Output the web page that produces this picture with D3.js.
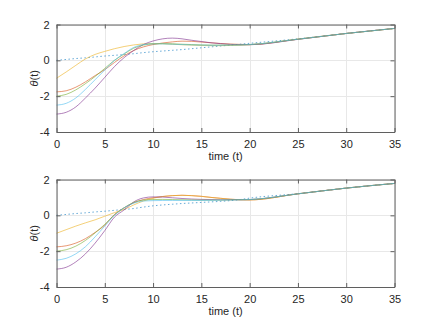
<!DOCTYPE html>
<html>
<head>
<meta charset="utf-8">
<script src="https://cdn.jsdelivr.net/npm/d3@7"></script>
<style>
  body { margin: 0; background: #fff; }
  svg { font-family: "Liberation Sans", Arial, sans-serif; }
</style>
</head>
<body>
<svg id="chart" width="436" height="327"></svg>
<script>
// sample times (s)
const times = [0, 1, 2, 3, 4, 5, 6, 7, 8, 9, 10, 11, 12, 13, 14, 15, 16, 17, 18, 19, 20, 25, 30, 35];

// top panel, one array per trajectory
const topRef    = [0, 0.05, 0.10, 0.14, 0.19, 0.24, 0.28, 0.32, 0.37, 0.43, 0.48, 0.52, 0.56, 0.60, 0.65, 0.70, 0.75, 0.80, 0.85, 0.90, 0.95, 1.20, 1.50, 1.78];
const topOrange = [-1.76, -1.70, -1.50, -1.20, -0.85, -0.52, -0.12, 0.25, 0.55, 0.75, 0.88, 0.97, 1.03, 1.07, 1.06, 1.02, 0.98, 0.94, 0.91, 0.89, 0.88, 1.18, 1.50, 1.78];
const topYellow = [-1.0, -0.65, -0.28, 0.08, 0.33, 0.50, 0.65, 0.77, 0.86, 0.92, 0.94, 0.93, 0.90, 0.87, 0.85, 0.83, 0.82, 0.82, 0.83, 0.85, 0.87, 1.18, 1.50, 1.78];
const topPurple = [-3.0, -2.9, -2.6, -2.1, -1.55, -0.95, -0.35, 0.15, 0.55, 0.88, 1.08, 1.2, 1.24, 1.2, 1.12, 1.05, 0.98, 0.93, 0.89, 0.87, 0.87, 1.17, 1.50, 1.78];
const topGreen  = [-2.0, -1.9, -1.65, -1.3, -0.9, -0.45, 0.0, 0.35, 0.68, 0.85, 0.92, 0.93, 0.92, 0.9, 0.88, 0.86, 0.85, 0.85, 0.85, 0.86, 0.88, 1.18, 1.50, 1.78];
const topCyan   = [-2.5, -2.4, -2.1, -1.62, -1.08, -0.54, 0.0, 0.38, 0.72, 0.88, 0.92, 0.92, 0.9, 0.88, 0.86, 0.85, 0.84, 0.84, 0.85, 0.86, 0.88, 1.18, 1.50, 1.78];

// bottom panel
const botRef    = [0, 0.05, 0.10, 0.14, 0.19, 0.23, 0.28, 0.33, 0.38, 0.46, 0.53, 0.58, 0.62, 0.66, 0.69, 0.72, 0.75, 0.78, 0.82, 0.88, 0.96, 1.21, 1.52, 1.78];
const botOrange = [-1.76, -1.7, -1.55, -1.3, -0.95, -0.55, 0.05, 0.42, 0.7, 0.88, 0.98, 1.05, 1.1, 1.12, 1.1, 1.06, 1.0, 0.95, 0.9, 0.87, 0.86, 1.2, 1.52, 1.78];
const botYellow = [-1.0, -0.8, -0.6, -0.42, -0.25, -0.05, 0.15, 0.33, 0.58, 0.8, 0.95, 1.05, 1.1, 1.12, 1.1, 1.06, 1.0, 0.95, 0.9, 0.87, 0.86, 1.2, 1.52, 1.78];
const botPurple = [-3.0, -2.9, -2.6, -2.15, -1.55, -0.85, -0.1, 0.3, 0.75, 0.97, 1.03, 1.02, 0.98, 0.94, 0.91, 0.89, 0.88, 0.87, 0.87, 0.87, 0.88, 1.2, 1.52, 1.78];
const botGreen  = [-2.0, -1.92, -1.72, -1.4, -0.98, -0.5, 0.02, 0.42, 0.72, 0.85, 0.88, 0.89, 0.88, 0.87, 0.86, 0.85, 0.85, 0.85, 0.86, 0.87, 0.88, 1.2, 1.52, 1.78];
const botCyan   = [-2.5, -2.4, -2.15, -1.75, -1.2, -0.6, 0.0, 0.42, 0.68, 0.8, 0.82, 0.83, 0.83, 0.83, 0.83, 0.83, 0.84, 0.85, 0.86, 0.87, 0.88, 1.2, 1.52, 1.78];

const xTicks = [0, 5, 10, 15, 20, 25, 30, 35];
const yTicks = [-4, -2, 0, 2];
const colors = ["#0072bd", "#d95319", "#edb120", "#7e2f8e", "#77ac30", "#4dbeee"];

const svg = d3.select("#chart");
const left = 56.5, right = 394.5;

const x = d3.scaleLinear().domain([0, 35]).range([left, right]);

function panel(top, bottom, series) {
    const y = d3.scaleLinear().domain([-4, 2]).range([bottom, top]);
    const g = svg.append("g");

    // grid
    g.append("g").selectAll("line.gx").data(xTicks).join("line")
        .attr("x1", d => Math.round(x(d)) + 0.5).attr("x2", d => Math.round(x(d)) + 0.5)
        .attr("y1", top).attr("y2", bottom)
        .attr("stroke", "#e8e8e8");
    g.append("g").selectAll("line.gy").data(yTicks).join("line")
        .attr("y1", d => Math.round(y(d)) + 0.5).attr("y2", d => Math.round(y(d)) + 0.5)
        .attr("x1", left).attr("x2", right)
        .attr("stroke", "#e8e8e8");

    const line = d3.line()
        .x((d, i) => x(times[i]))
        .y(d => y(d))
        .curve(d3.curveMonotoneX);

    g.append("g").selectAll("path").data(series).join("path")
        .attr("d", d => line(d))
        .attr("fill", "none")
        .attr("stroke", (d, i) => colors[i])
        .attr("stroke-opacity", 0.6)
        .attr("stroke-width", 1)
        .attr("stroke-dasharray", (d, i) => i === 0 ? "1.5,2.5" : null);

    // axes, ticks inward, box on
    const tl = 4;
    const bottomAx = g.append("g").attr("transform", `translate(0,${bottom})`)
        .call(d3.axisBottom(x).tickValues(xTicks).tickSizeInner(-tl).tickSizeOuter(0).tickPadding(8));
    const topAx = g.append("g").attr("transform", `translate(0,${top})`)
        .call(d3.axisTop(x).tickValues(xTicks).tickSizeInner(-tl).tickSizeOuter(0).tickFormat(""));
    const leftAx = g.append("g").attr("transform", `translate(${left},0)`)
        .call(d3.axisLeft(y).tickValues(yTicks).tickSizeInner(-tl).tickSizeOuter(0).tickPadding(7));
    const rightAx = g.append("g").attr("transform", `translate(${right},0)`)
        .call(d3.axisRight(y).tickValues(yTicks).tickSizeInner(-tl).tickSizeOuter(0).tickFormat(""));

    [bottomAx, topAx, leftAx, rightAx].forEach(a => {
        a.select(".domain").attr("stroke", "#5f5f5f");
        a.selectAll(".tick line").attr("stroke", "#5f5f5f");
        a.selectAll("text").attr("fill", "#262626").attr("font-size", "11px")
            .attr("font-family", "'Liberation Sans', Arial, sans-serif");
    });
    leftAx.selectAll("text").text(d => d < 0 ? "-" + Math.abs(d) : d);

    g.append("text")
        .attr("x", (left + right) / 2).attr("y", bottom + 28)
        .attr("text-anchor", "middle").attr("font-size", "11px").attr("fill", "#262626")
        .text("time (t)");

    const ylab = g.append("text")
        .attr("transform", `translate(38,${(top + bottom) / 2}) rotate(-90)`)
        .attr("text-anchor", "middle").attr("font-size", "11px").attr("fill", "#262626");
    ylab.append("tspan").attr("font-style", "italic").text("θ");
    ylab.append("tspan").text("(t)");
}

panel(24.5, 132, [topRef, topOrange, topYellow, topPurple, topGreen, topCyan]);
panel(179.5, 287, [botRef, botOrange, botYellow, botPurple, botGreen, botCyan]);
</script>
</body>
</html>
